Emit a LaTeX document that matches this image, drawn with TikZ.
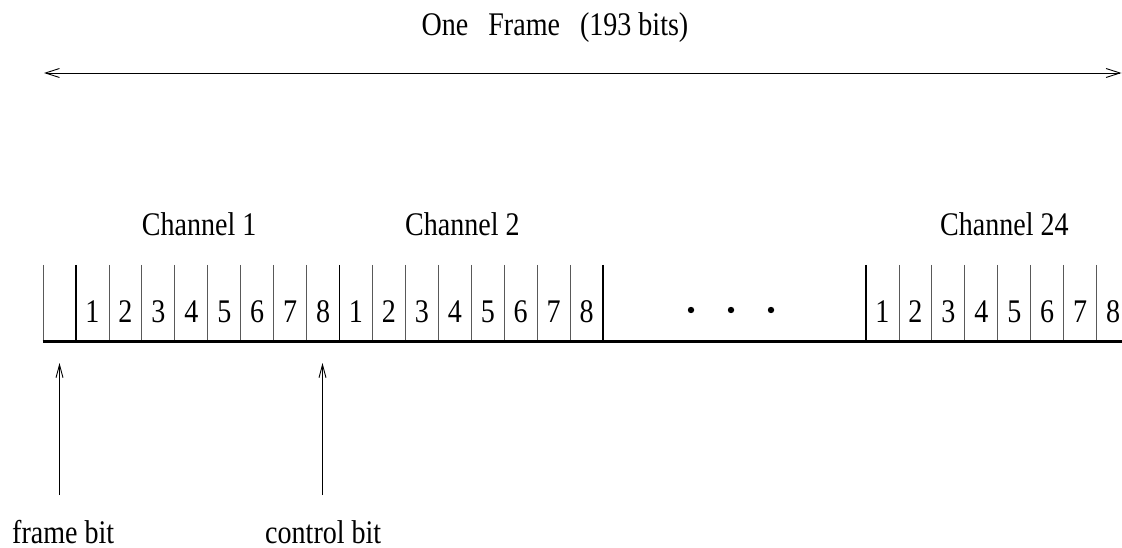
\documentclass[tikz,border=0pt]{standalone}
\usepackage{fontspec}
\setmainfont[FakeStretch=0.85]{Liberation Serif}
\usetikzlibrary{arrows.meta}
\begin{document}
\begin{tikzpicture}[x=1pt,y=-1pt,
  lbl/.style={inner sep=0pt, font=\fontsize{33}{36}\selectfont},
  slotline/.style={line width=0.9pt, black!65},
  chline/.style={line width=1.2pt, black},
  wire/.style={line width=3.5pt},
  span/.style={line width=0.9pt, {Straight Barb[length=14pt,width=9pt]}-{Straight Barb[length=14pt,width=9pt]}},
  pointer/.style={line width=0.9pt, -{Straight Barb[length=13pt,width=7pt]}}]
\useasboundingbox (0,0) rectangle (1122,548);

% frame length
\node[lbl, anchor=base] (title) at (555,36) {One\hspace{20pt}Frame\hspace{20pt}(193 bits)};
\coordinate (frameL) at (44,73);
\coordinate (frameR) at (1121.5,73);
\draw[span] (frameL) -- (frameR);

% channel headings
\node[lbl, anchor=base west] (ch1) at (141.7,236) {Channel 1};
\node[lbl, anchor=base west] (ch2) at (405,236) {Channel 2};
\node[lbl, anchor=base west] (ch24) at (940,236) {Channel 24};

% frame bit slot
\draw[slotline] (43,265) -- (43,341);

% bit slots of each channel
\foreach \s/\c in {76/a,339.5/b,866/c} {
  \draw[chline] (\s,265) -- (\s,341);
  \foreach \i in {1,...,7}
    \draw[slotline] ({\s+32.95*\i},265) -- ({\s+32.95*\i},341);
  \foreach \i in {1,...,8}
    \node[lbl, anchor=base] (bit\c\i) at ({\s+32.95*(\i-0.5)},322) {\i};
}
\draw[chline] (603,265) -- (603,341);

% omitted channels
\foreach \x/\n in {691/1,731/2,771/3}
  \fill (\x,310) circle (3.2pt);

% transmission line
\coordinate (wireL) at (42.7,341.5);
\coordinate (wireR) at (1122,341.5);
\draw[wire] (wireL) -- (wireR);

% pointers
\node[lbl, anchor=base west] (fbit) at (12,543) {frame bit};
\node[lbl, anchor=base west] (cbit) at (265,543) {control bit};
\coordinate (fbtail) at (59.5,495);
\coordinate (fbtip) at (59.5,363);
\coordinate (cbtail) at (322.5,495);
\coordinate (cbtip) at (322.5,363);
\draw[pointer] (fbtail) -- (fbtip);
\draw[pointer] (cbtail) -- (cbtip);
\end{tikzpicture}
\end{document}
